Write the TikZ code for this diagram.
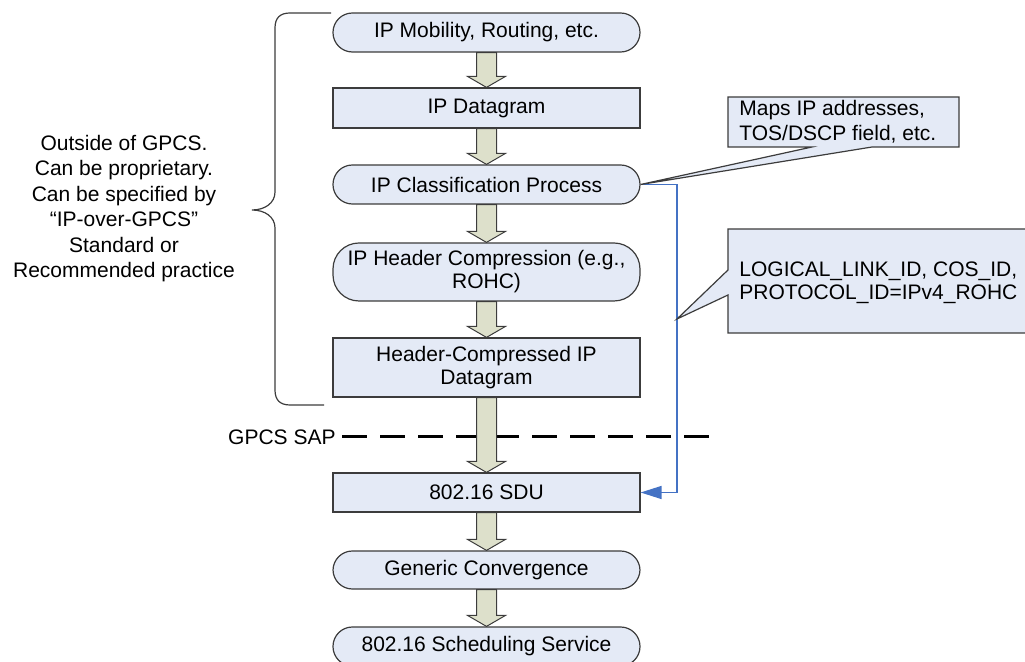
\documentclass[tikz,border=0pt]{standalone}
\usepackage{fontspec}
\setmainfont{Liberation Sans}
\usetikzlibrary{calc,arrows.meta}
\definecolor{boxfill}{RGB}{228,234,246}
\definecolor{arrfill}{RGB}{221,224,203}
\definecolor{edge}{RGB}{60,60,60}
\definecolor{linkblue}{RGB}{68,114,196}
\newcommand{\barrow}[2]{%
  \draw[barr] ($(#1.south)+(-5pt,0)$) -- ($(#2.north)+(-5pt,5.5pt)$) -- ($(#2.north)+(-9.5pt,5.5pt)$) -- (#2.north) -- ($(#2.north)+(9.5pt,5.5pt)$) -- ($(#2.north)+(5pt,5.5pt)$) -- ($(#1.south)+(5pt,0)$) -- cycle;}
\begin{document}
\begin{tikzpicture}[x=0.5pt,y=-0.5pt,
  font=\fontsize{10.5}{11.5}\selectfont,
  box/.style={draw=edge, fill=boxfill, line width=0.6pt, minimum width=153.5pt, inner sep=0pt, align=center},
  pill/.style={box, rounded corners=9.7pt},
  barr/.style={draw=edge, fill=arrfill, line width=0.5pt, line join=miter},
  callout/.style={draw=edge, fill=boxfill, line width=0.6pt, line join=miter},
  brace/.style={draw=edge, line width=0.6pt},
  sapline/.style={draw=black, line width=1.5pt, dash pattern=on 12.5pt off 6.5pt},
  bluelink/.style={draw=linkblue, line width=0.7pt, -{Triangle[length=10.5pt,width=6.5pt]}},
  plain/.style={inner sep=0pt, align=center}]
\useasboundingbox (0,0) rectangle (1025,662);

% flow nodes
\node[pill, minimum height=19.5pt] (n1) at (486.5,32.5) {IP Mobility, Routing, etc.};
\node[box, minimum height=20pt] (n2) at (486.5,108) {IP Datagram};
\node[pill, minimum height=19.5pt] (n3) at (486.5,184.5) {IP Classification Process};
\node[box, rounded corners=13pt, minimum height=29pt] (n4) at (486.5,272) {IP Header Compression (e.g.,\\ROHC)};
\node[box, minimum height=29.5pt] (n5) at (486.5,367.5) {Header-Compressed IP\\Datagram};
\node[box, minimum height=19.5pt] (n6) at (486.5,492.5) {802.16 SDU};
\node[pill, minimum height=19pt] (n7) at (486.5,570) {Generic Convergence};
\node[pill, minimum height=19.5pt] (n8) at (486.5,646.5) {802.16 Scheduling Service};

% GPCS SAP
\node[plain, anchor=east] (sap) at (336,437) {GPCS SAP};
\coordinate (sapend) at (712,437);
\draw[sapline] ([xshift=3pt]sap.east) -- (sapend);

% block arrows
\barrow{n1}{n2}
\barrow{n2}{n3}
\barrow{n3}{n4}
\barrow{n4}{n5}
\barrow{n5}{n6}
\barrow{n6}{n7}
\barrow{n7}{n8}

% blue link
\coordinate (bl1) at (677,184.5);
\coordinate (bl2) at (677,492.5);
\draw[bluelink] (n3.east) -- (bl1) -- (bl2) -- (n6.east);

% callout 1
\draw[callout] (728,97) -- (959,97) -- (959,147) -- (872,147) -- (n3.east) -- (812,147) -- (728,147) -- cycle;
\node[plain, anchor=west, align=left, font=\fontsize{10.5}{12.5}\selectfont] (c1) at (739,122) {Maps IP addresses,\\TOS/DSCP field, etc.};

% callout 2
\coordinate (tip2) at (677,319);
\draw[callout] (728,229) -- (1032,229) -- (1032,333) -- (728,333) -- (728,295) -- (tip2) -- (728,270) -- cycle;
\node[plain, anchor=west, align=left] (c2) at (739,283) {LOGICAL\_LINK\_ID, COS\_ID,\\PROTOCOL\_ID=IPv4\_ROHC};

% brace
\draw[brace] (331,13) -- (290,13) .. controls (280,13) and (275,18) .. (275,28) -- (275,192) .. controls (275,203) and (265,210) .. (252,210) .. controls (265,210) and (275,217) .. (275,228) -- (275,390) .. controls (275,400) and (280,405) .. (290,405) -- (324,405);

% left note
\node[plain, font=\fontsize{10.5}{12.7}\selectfont] (note) at (124,208.5) {Outside of GPCS.\\Can be proprietary.\\Can be specified by\\“IP-over-GPCS”\\Standard or\\Recommended practice};
\end{tikzpicture}
\end{document}
